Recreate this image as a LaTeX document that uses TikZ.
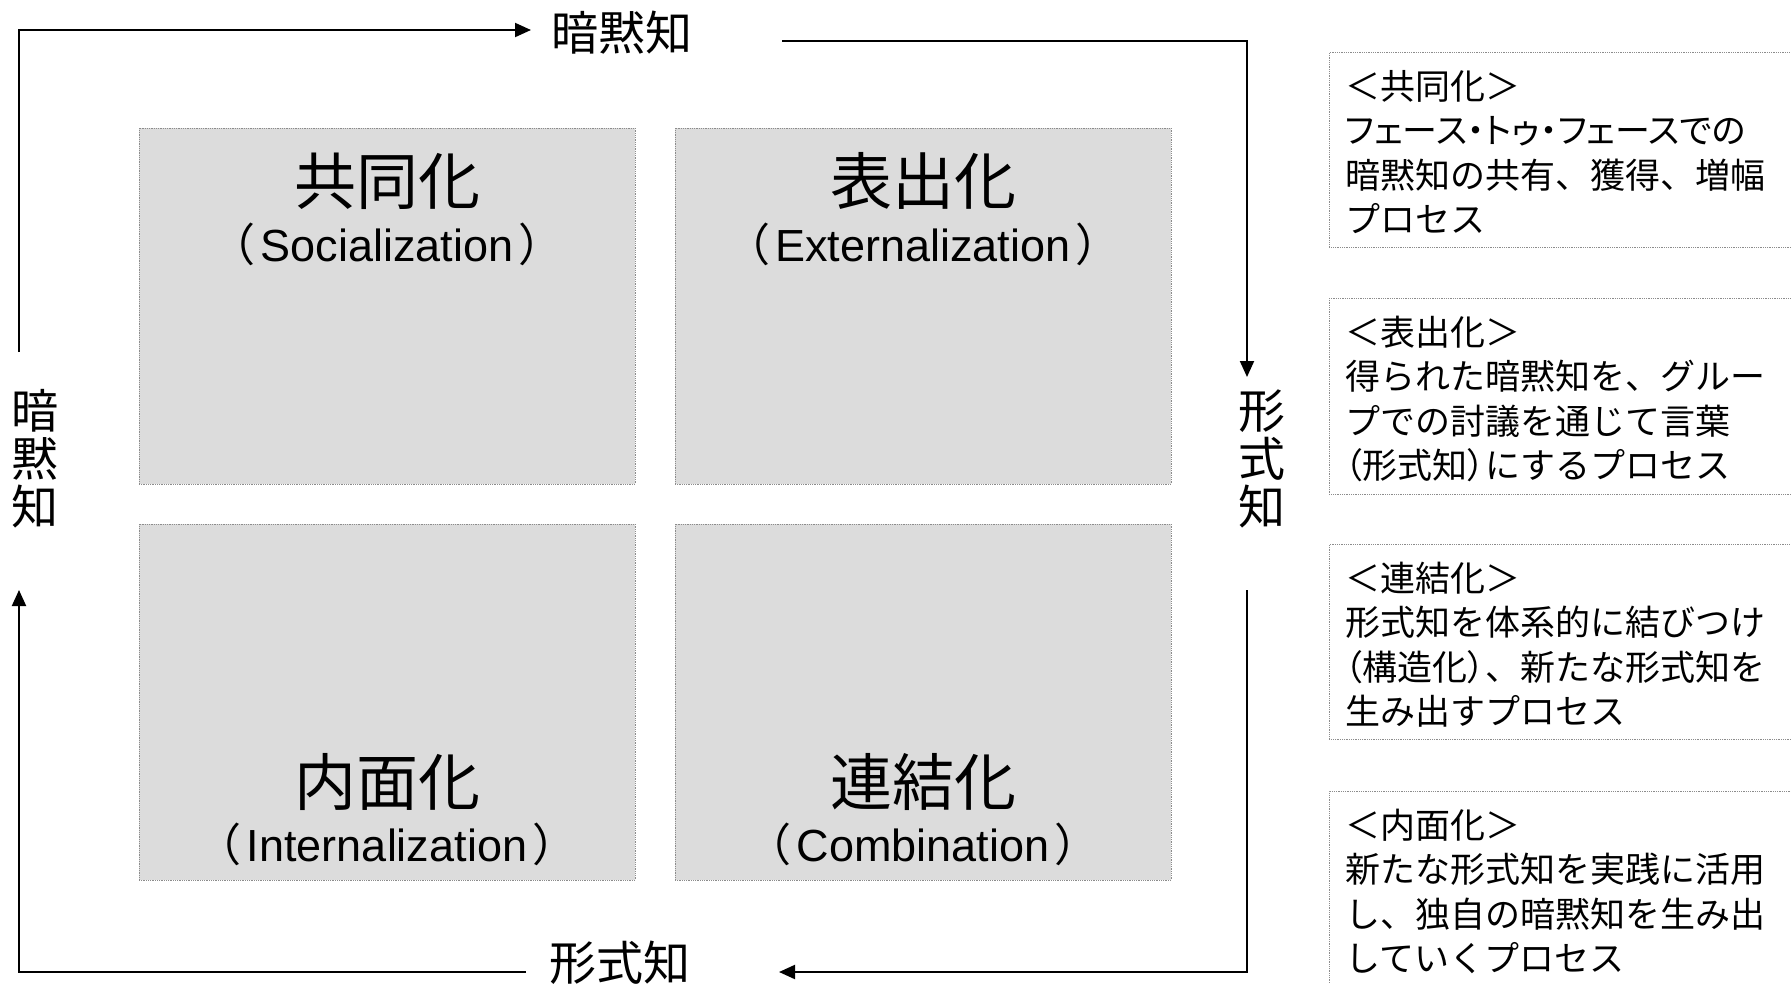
\documentclass[tikz,border=0pt]{standalone}
\usepackage{fontspec}
\setmainfont{Liberation Sans}
\newfontfamily\jp{Noto Sans CJK JP}
\newfontfamily\jpp{Noto Sans CJK JP}[RawFeature=+palt]
\usetikzlibrary{arrows.meta}
\definecolor{boxgray}{RGB}{220,220,220}
\definecolor{edgegray}{RGB}{140,140,140}
\newcommand{\lp}{{\jp （}\hspace{5pt}}
\newcommand{\rp}{\hspace{5pt}{\jp ）}}
\begin{document}
\begin{tikzpicture}[x=1pt,y=-1pt,
  quad/.style={draw=edgegray, densely dotted, line width=0.8pt, fill=boxgray, minimum width=496pt, minimum height=356pt, inner sep=0pt},
  descbox/.style={draw=edgegray, densely dotted, line width=0.8pt, fill=white, inner sep=0pt, anchor=north west, minimum width=480pt},
  big/.style={font=\jp\fontsize{62}{64}\selectfont, inner sep=0pt},
  sub/.style={font=\fontsize{45}{48}\selectfont, inner sep=0pt},
  axislab/.style={font=\jp\fontsize{47}{48}\selectfont, inner sep=0pt, align=center},
  conn/.style={draw=black, line width=2pt},
  arr/.style={conn, -{Triangle[length=16pt,width=14pt]}},
  dtext/.style={font=\jp\fontsize{35}{44}\selectfont, inner sep=0pt, anchor=base west},
]
\useasboundingbox (0,0) rectangle (1791,983);

% quadrants
\node[quad] (soc) at (387,306) {};
\node[quad] (ext) at (923,306) {};
\node[quad] (int) at (387,702) {};
\node[quad] (com) at (923,702) {};

\node[big] (socj) at (387,181) {共同化};
\node[sub] (soce) at (387,244) {\lp Socialization\rp};
\node[big] (extj) at (923,181) {表出化};
\node[sub] (exte) at (923,244) {\lp Externalization\rp};
\node[big] (intj) at (387,782) {内面化};
\node[sub] (inte) at (387,844) {\lp Internalization\rp};
\node[big] (comj) at (923,782) {連結化};
\node[sub] (come) at (923,844) {\lp Combination\rp};

% axis labels
\node[axislab] (ttop) at (622,33) {暗黙知};
\node[axislab] (fbot) at (620,963) {形式知};
\node[axislab] (tleft) at (35,459) {暗\\黙\\知};
\node[axislab] (fright) at (1262,459) {形\\式\\知};

% arrow coordinates
\coordinate (a1s) at (19,352);
\coordinate (a1c) at (19,30);
\coordinate (a1e) at (531,30);
\coordinate (a2s) at (782,41);
\coordinate (a2c) at (1247,41);
\coordinate (a2e) at (1247,377);
\coordinate (a3s) at (1247,590);
\coordinate (a3c) at (1247,972);
\coordinate (a3e) at (779,972);
\coordinate (a4s) at (526,972);
\coordinate (a4c) at (19,972);
\coordinate (a4e) at (19,590);

\draw[arr] (a1s) -- (a1c) -- (a1e);
\draw[arr] (a2s) -- (a2c) -- (a2e);
\draw[arr] (a3s) -- (a3c) -- (a3e);
\draw[arr] (a4s) -- (a4c) -- (a4e);

% description boxes
\node[descbox, minimum height=195pt] (d1) at (1329,52) {};
\node[descbox, minimum height=196pt] (d2) at (1329,298) {};
\node[descbox, minimum height=195pt] (d3) at (1329,544) {};
\node[descbox, minimum height=210pt] (d4) at (1329,791) {};

\node[dtext] (d1a) at (1345,99) {＜共同化＞};
\node[dtext] (d1b) at (1345,143.5) {{\jpp フェース・トゥ・フェースでの}};
\node[dtext] (d1c) at (1345,188) {暗黙知の共有、獲得、増幅};
\node[dtext] (d1d) at (1345,232.5) {プロセス};

\node[dtext] (d2a) at (1345,345) {＜表出化＞};
\node[dtext] (d2b) at (1345,389.5) {得られた暗黙知を、グルー};
\node[dtext] (d2c) at (1345,434) {プでの討議を通じて言葉};
\node[dtext] (d2d) at (1345,478.5) {{\jpp （}形式知{\jpp ）}にするプロセス};

\node[dtext] (d3a) at (1345,591) {＜連結化＞};
\node[dtext] (d3b) at (1345,635.5) {形式知を体系的に結びつけ};
\node[dtext] (d3c) at (1345,680) {{\jpp （}構造化{\jpp ）}、新たな形式知を};
\node[dtext] (d3d) at (1345,724.5) {生み出すプロセス};

\node[dtext] (d4a) at (1345,838) {＜内面化＞};
\node[dtext] (d4b) at (1345,882.5) {新たな形式知を実践に活用};
\node[dtext] (d4c) at (1345,927) {し、独自の暗黙知を生み出};
\node[dtext] (d4d) at (1345,971.5) {していくプロセス};
\end{tikzpicture}
\end{document}
